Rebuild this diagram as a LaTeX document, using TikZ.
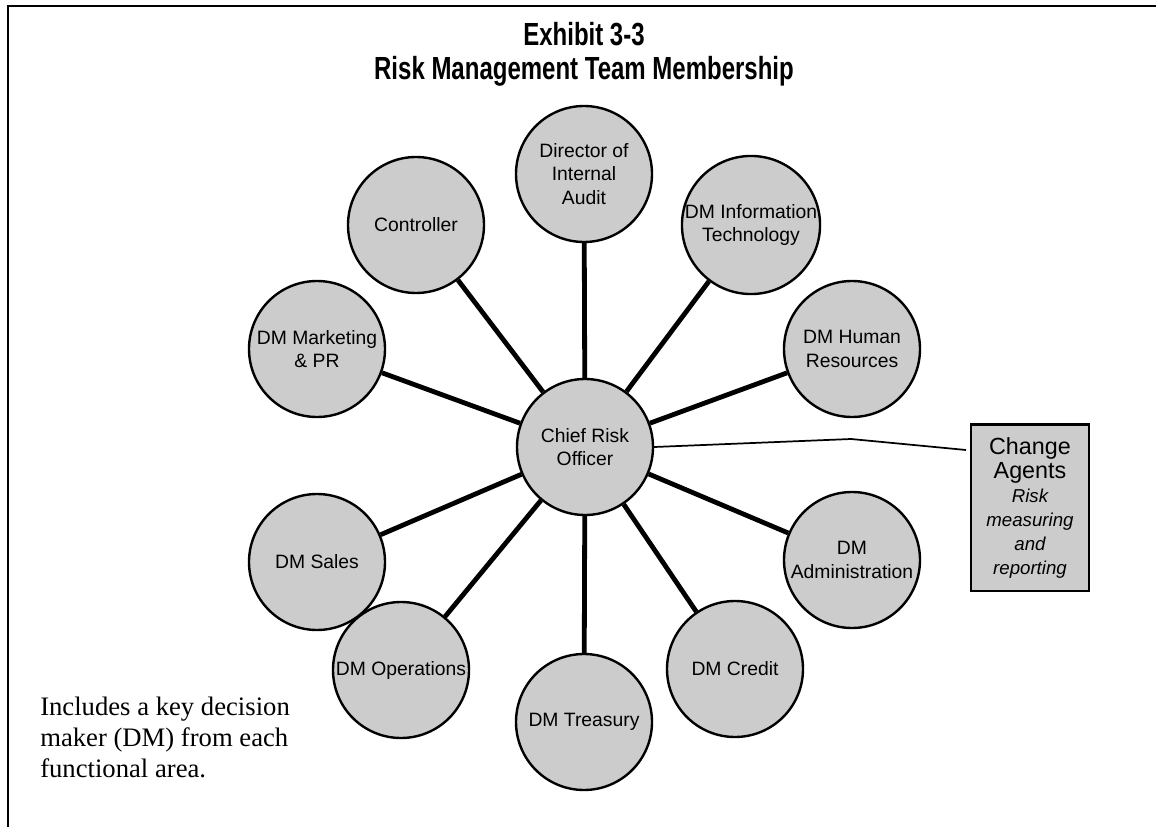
\documentclass[tikz,border=0pt]{standalone}
\usepackage{fontspec}
\setmainfont{Liberation Sans}
\newfontfamily\notefont{Liberation Serif}
\newfontfamily\headfont[FakeStretch=0.75]{Liberation Sans}
\definecolor{discgray}{HTML}{CCCCCC}
\newcommand\agentbig{\fontsize{17.5}{18}\selectfont}
\newcommand\agentital{\fontsize{14}{18}\selectfont\itshape}
\begin{document}
\begin{tikzpicture}[x=0.75pt,y=-0.75pt,
  member/.style={circle, draw=black, line width=1.8pt, fill=discgray,
    minimum size=102pt, inner sep=0pt, align=center,
    font=\fontsize{14.5}{17.6}\selectfont},
  spoke/.style={line width=3.6pt},
  link/.style={line width=1.3pt, line join=miter},
  agentbox/.style={rectangle, draw=black, line width=2pt, fill=discgray,
    minimum width=88.5pt, minimum height=125pt, inner sep=0pt, align=center,
    font=\fontsize{14}{18}\selectfont},
  heading/.style={font=\headfont\bfseries\fontsize{24}{28}\selectfont, inner sep=0pt},
  frame/.style={line width=2.2pt}]
\useasboundingbox (0,0) rectangle (1156,827);

% outer frame (top and left edges)
\coordinate (frame-top-right) at (1156,6);
\coordinate (frame-corner) at (8,6);
\coordinate (frame-bottom-left) at (8,827);
\draw[frame] (frame-top-right) -- (frame-corner) -- (frame-bottom-left);

% heading
\node[heading] (title1) at (584,34) {Exhibit 3-3};
\node[heading] (title2) at (584,71) {Risk Management Team Membership};

% team members
\node[member] (cro)    at (585,447) {Chief Risk\\Officer};
\node[member] (audit)  at (584,174) {Director of\\Internal\\Audit};
\node[member] (ctrl)   at (416,225) {Controller};
\node[member] (it)     at (751,225) {DM Information\\Technology};
\node[member] (hr)     at (852,349) {DM Human\\Resources};
\node[member] (mkt)    at (317,349) {DM Marketing\\\& PR};
\node[member] (sales)  at (317,562) {DM Sales};
\node[member] (admin)  at (852,560) {DM\\Administration};
\node[member] (ops)    at (401,670) {DM Operations};
\node[member] (credit) at (735,669) {DM Credit};
\node[member] (treas)  at (584,722) {DM Treasury};

% spokes from the chief risk officer
\foreach \m in {audit,ctrl,it,hr,mkt,sales,admin,ops,credit,treas}
  \draw[spoke] (cro) -- (\m);

% change agents box and its link
\node[agentbox] (agents) at (1030,507.5)
  {\agentbig Change\\\agentbig Agents\\\agentital Risk\\\agentital measuring\\\agentital and\\\agentital reporting};
\coordinate (link-bend) at (851,439);
\coordinate (link-end) at (966,450);
\draw[link] (cro.east) -- (link-bend) -- (link-end);

% note
\node[font=\notefont\fontsize{20}{23.2}\selectfont, align=left, anchor=north west, inner sep=0pt]
  (note) at (40,697) {Includes a key decision\\maker (DM) from each\\functional area.};
\end{tikzpicture}
\end{document}
